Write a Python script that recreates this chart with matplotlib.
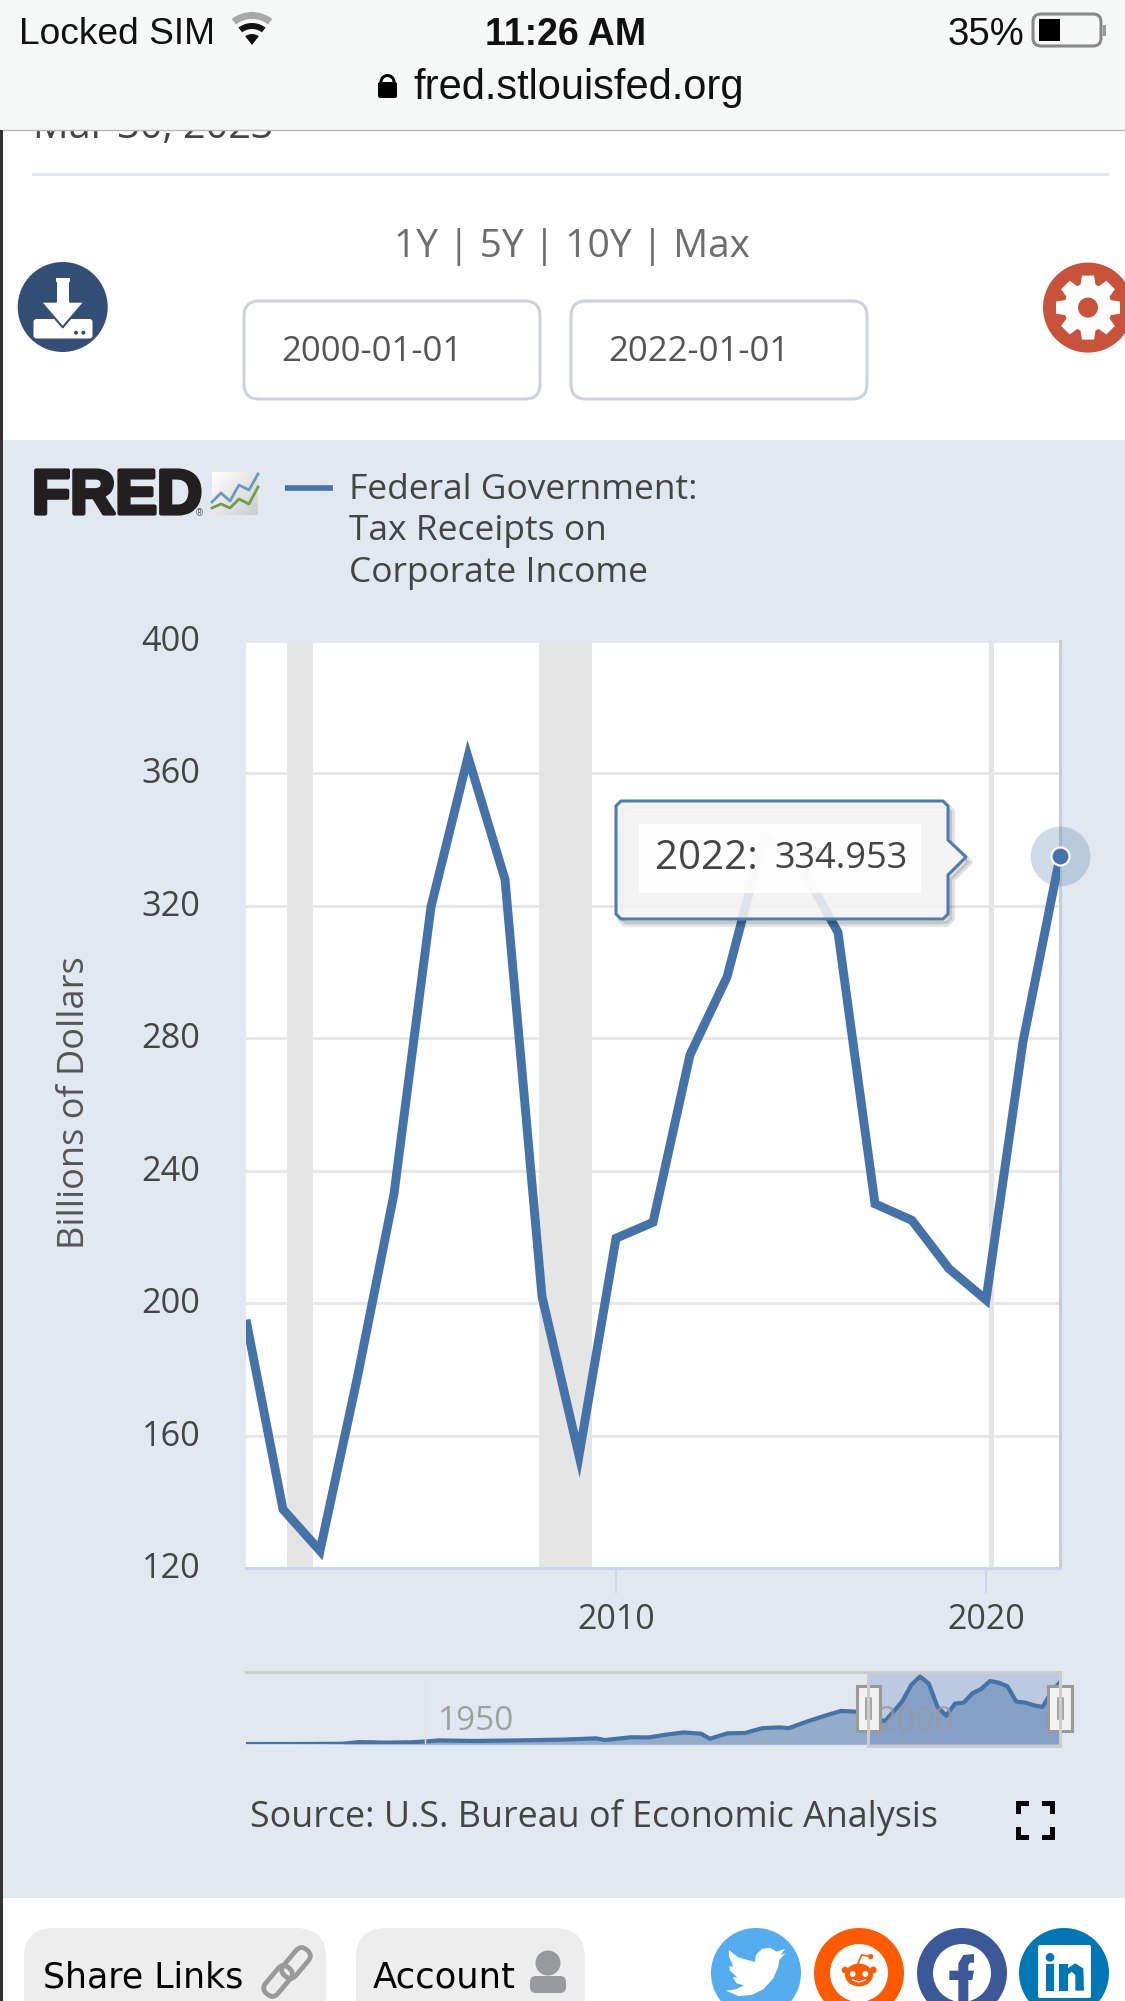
import numpy as np
import matplotlib
matplotlib.use('Agg')
import matplotlib.pyplot as plt
from matplotlib.patches import Circle, Ellipse, FancyBboxPatch, Polygon, Rectangle, Wedge
from matplotlib.transforms import Affine2D, ScaledTranslation
import matplotlib.patheffects as pe

# main series (2014 and 2015 sit behind the tooltip)
years = list(range(2000, 2023))
receipts = [195, 137.7, 125.2, 177, 233, 319.7, 365, 328, 202, 154, 219.6, 224.4,
            275, 298.5, 341, 332, 312, 230, 225, 210.4, 201, 279, 334.953]

# navigator, earlier years
nav_years = [1929, 1935, 1940, 1942, 1945, 1948, 1950, 1951, 1955, 1960, 1965, 1969, 1970,
             1973, 1975, 1977, 1979, 1981, 1982, 1984, 1986, 1988, 1990, 1991, 1993, 1995,
             1997, 1999]
nav_values = [1.4, 1.5, 3, 12, 9, 11, 17, 21, 18, 21, 25, 32, 23,
              38, 37, 52, 64, 57, 30, 59, 61, 87, 91, 87, 121, 152,
              180, 175]

recessions = [(2001.11, 2001.81), (2007.92, 2009.35), (2020.08, 2020.22)]
y_ticks = [120, 160, 200, 240, 280, 320, 360, 400]
x_ticks = [2010, 2020]
legend_lines = ['Federal Government:', 'Tax Receipts on', 'Corporate Income']

BLUE = '#4572a7'
PANEL = '#e1e8ef'
TEXT = '#444444'
W, H = 1125, 2001
OPEN = 'Open Sans'
LIB = 'Liberation Sans'

fig = plt.figure(figsize=(W / 100, H / 100), dpi=100, facecolor='white')


def pixel_axes(z):
    a = fig.add_axes([0, 0, 1, 1], zorder=z)
    a.set_xlim(0, W)
    a.set_ylim(H, 0)
    a.axis('off')
    a.patch.set_alpha(0)
    return a


def axes_at(x0, y0, x1, y1, z):
    return fig.add_axes([x0 / W, 1 - y1 / H, (x1 - x0) / W, (y1 - y0) / H], zorder=z)


def rounded(a, x0, y0, x1, y1, r, **kw):
    p = FancyBboxPatch((x0 + r, y0 + r), x1 - x0 - 2 * r, y1 - y0 - 2 * r,
                       boxstyle='round,pad=%f,rounding_size=%f' % (r, r), **kw)
    a.add_patch(p)
    return p


ui = pixel_axes(0)

# page behind the chart
ui.text(33, 128, 'Mar 30, 2023', fontsize=28.5, family=OPEN, color='#444444', va='center', zorder=1)
ui.add_patch(Rectangle((0, 0), W, 130, fc='#f6f7f7', ec='none', zorder=2))
ui.plot([0, W], [130.5, 130.5], color='#b8b8b8', lw=1, zorder=3)
ui.add_patch(Rectangle((0, 130), 3, H - 130, fc='#333333', ec='none', zorder=6))
ui.plot([33, 1107], [174, 174], color='#e1e8f0', lw=2.2)

# status bar
ui.text(19, 35, 'Locked SIM', fontsize=26.7, family=LIB, color='#111111', va='center', zorder=4)
ui.text(566, 35, '11:26 AM', fontsize=27, family=LIB, weight='bold', color='#111111',
        ha='center', va='center', zorder=4)
ui.text(948, 35, '35%', fontsize=27.5, family=LIB, color='#111111', va='center', zorder=4)
ui.text(579, 88, 'fred.stlouisfed.org', fontsize=30, family=LIB, color='#111111',
        ha='center', va='center', zorder=4)
ui.add_patch(Wedge((252, 45), 33, 232, 308, width=7, fc='#a8a8a8', ec='none', zorder=4))
ui.add_patch(Wedge((252, 45), 22, 232, 308, width=6, fc='#111111', ec='none', zorder=4))
ui.add_patch(Wedge((252, 45), 11, 232, 308, fc='#111111', ec='none', zorder=4))
rounded(ui, 1033, 14, 1101, 46, 8, fc='none', ec='#888888', lw=2.2, zorder=4)
ui.add_patch(Rectangle((1039, 19), 21, 22, fc='black', ec='none', zorder=4))
ui.add_patch(Rectangle((1103, 25), 3, 11, fc='#999999', ec='none', zorder=4))
rounded(ui, 378, 82, 397, 98, 2, fc='black', ec='none', zorder=4)
ui.add_patch(Wedge((387.5, 82), 8, 180, 360, width=3, fc='black', ec='none', zorder=4))

# range links and date inputs
ui.text(572, 247, '1Y | 5Y | 10Y | Max', fontsize=28, family=OPEN, color='#6d6d6d', ha='center', va='center')
for x0, x1, label in [(244, 540, '2000-01-01'), (571, 867, '2022-01-01')]:
    rounded(ui, x0, 301, x1, 399, 15, fc='white', ec='#ccd3de', lw=2.2)
    ui.text(x0 + 37, 352, label, fontsize=25, family=OPEN, color='#555555', va='center')

# download icon, coordinates from a 3x crop
def dl(p):
    return [(x / 3, 250 + y / 3) for x, y in p]


ui.add_patch(Circle((62.7, 307), 45, fc='#344f76', ec='none'))
rounded(ui, 33.5, 319, 92.5, 338.5, 3, fc='white', ec='none')
ui.add_patch(Polygon(dl([(168, 85), (210, 85), (210, 155), (254, 155), (188, 232), (122, 155), (168, 155)]),
                     fc='white', ec='#344f76', lw=1.5, joinstyle='round'))
ui.add_patch(Rectangle((56, 278), 14, 4, fc='white', ec='none'))
ui.add_patch(Circle((76, 332.7), 2, fc='#344f76', ec='none'))
ui.add_patch(Circle((83.3, 332.7), 2, fc='#344f76', ec='none'))

# settings icon
gx, gy = 1088, 307.6
ui.add_patch(Circle((gx, gy), 45, fc='#c8523a', ec='none'))
ui.add_patch(Circle((gx, gy), 24, fc='white', ec='none'))
for ang in np.arange(0, 360, 45):
    t = np.deg2rad(ang)
    d, n = np.array([np.cos(t), np.sin(t)]), np.array([-np.sin(t), np.cos(t)])
    c = np.array([gx, gy])
    ui.add_patch(Polygon([c + 20 * d + 8 * n, c + 32 * d + 6 * n, c + 32 * d - 6 * n, c + 20 * d - 8 * n],
                         fc='white', ec='none'))
ui.add_patch(Circle((gx, gy), 10, fc='#c8523a', ec='none'))

# chart panel
ui.add_patch(Rectangle((3, 440), W - 3, 1898 - 440, fc=PANEL, ec='none'))
ui.text(117, 497, 'FRED', fontsize=45, family=LIB, weight='bold', color='#231f20', ha='center', va='center',
        path_effects=[pe.withStroke(linewidth=3, foreground='#231f20')])
ui.text(199, 513, '®', fontsize=7, family=LIB, color='#555555', ha='center', va='center')
grad = np.linspace(0, 1, 46)[None, :] * 0.5 + np.linspace(0, 1, 43)[:, None] * 0.5
ui.imshow(1 - 0.2 * grad, extent=(212, 258, 515, 472), cmap='gray', vmin=0, vmax=1, aspect='auto', zorder=3)
ui.set_xlim(0, W)
ui.set_ylim(H, 0)
ui.plot([212, 221, 230, 239, 249, 258], [502, 493, 501, 485, 490, 474], color='#6b9ac0', lw=2, zorder=4)
ui.plot([212, 221, 230, 239, 249, 258], [508, 504, 508, 499, 504, 487], color='#6ea04a', lw=2, zorder=4)
ui.plot([285, 333], [488, 488], color=BLUE, lw=4, solid_capstyle='butt')
for text_y, line in zip([490, 531, 573.5], legend_lines):
    ui.text(349, text_y, line, fontsize=25.5, family=OPEN, color=TEXT, va='center')

# main chart
ax = axes_at(246, 641, 1060, 1568, 1)
ax.set_facecolor('white')
ax.set_xlim(2000, 2022)
ax.set_ylim(120, 400)
ax.set_yticks(y_ticks)
ax.set_xticks(x_ticks)
ax.grid(axis='y', color='#e6e6e6', lw=2)
ax.set_axisbelow(True)
for start, end in recessions:
    ax.axvspan(start, end, color='#e5e5e5', lw=0, zorder=1)
ax.plot(years, receipts, color=BLUE, lw=6.4, solid_joinstyle='miter', solid_capstyle='butt', zorder=3)
ax.plot(years[-1], receipts[-1], 'o', ms=43, mfc=BLUE, mec='none', alpha=0.25, clip_on=False, zorder=4)
ax.plot(years[-1], receipts[-1], 'o', ms=13, mfc=BLUE, mec='white', mew=1.6, clip_on=False, zorder=5)
for side in ['top', 'left']:
    ax.spines[side].set_visible(False)
ax.spines['bottom'].set_color('#ccd6eb')
ax.spines['bottom'].set_linewidth(2.2)
ax.spines['right'].set_color('#c8ced8')
ax.spines['right'].set_linewidth(2.2)
ax.tick_params(axis='y', length=0, pad=33, labelsize=24.7, labelcolor=TEXT)
ax.tick_params(axis='x', length=18, width=1.5, color='#ccd6eb', pad=7, labelsize=24.5, labelcolor=TEXT)
shift = ScaledTranslation(0, 3 / 100, fig.dpi_scale_trans)
for lab in ax.get_yticklabels():
    lab.set_transform(lab.get_transform() + shift)
for lab in ax.get_xticklabels() + ax.get_yticklabels():
    lab.set_family(OPEN)
ax.set_ylabel('Billions of Dollars', fontsize=26, family=OPEN, color='#555555')
ax.yaxis.set_label_coords((93 - 246) / 814, 0.5016)

# navigator
nav = axes_at(246, 1671, 1060, 1744.3, 1)
nav.patch.set_alpha(0)
nav_x = nav_years + years
nav_y = nav_values + receipts
nav.set_xlim(1929, 2022)
nav.set_ylim(0, 395)
nav.fill_between(nav_x, nav_y, 0, color=BLUE, alpha=0.5, lw=0)
nav.plot(nav_x, nav_y, color=BLUE, lw=3)
nav.axvline(1949.5, color='#e6e6e6', lw=1)
nav.axvspan(2000, 2022, color='#6685c2', alpha=0.3, lw=0)
nav.set_xticks([])
nav.set_yticks([])
for s in nav.spines.values():
    s.set_visible(False)

top = pixel_axes(3)
top.plot([246, 868, 868, 1060, 1060, 868, 868], [1672, 1672, 1672, 1672, 1746, 1746, 1672], color='#cccccc', lw=2.2,
         solid_joinstyle='miter')
top.text(476, 1722, '1950', fontsize=24, family=OPEN, color='#999999', ha='center', va='center', alpha=0.9)
top.text(916, 1722, '2000', fontsize=24, family=OPEN, color='#999999', ha='center', va='center', alpha=0.75)
for hx0, hx1 in [(856, 881), (1047, 1073)]:
    top.add_patch(Rectangle((hx0 + 1, 1686), hx1 - hx0 - 2, 45, fc='#f2f2f2', ec='#999999', lw=2.2))
    mid = (hx0 + hx1) / 2
    top.plot([mid - 2.5, mid - 2.5], [1698, 1719], color='#999999', lw=1.2)
    top.plot([mid + 2.5, mid + 2.5], [1698, 1719], color='#999999', lw=1.2)

# tooltip
tip = [(621, 801), (943, 801), (948, 806), (948, 840), (966, 857), (948, 875), (948, 914), (943, 919), (621, 919),
       (616, 914), (616, 806)]
top.add_patch(Polygon([(x + 4, y + 5) for x, y in tip], fc='#000000', alpha=0.12, ec='#000000', lw=4, joinstyle='round'))
top.add_patch(Polygon(tip, fc='#f7f7f7', alpha=0.88, ec='none'))
top.add_patch(Polygon(tip, fc='none', ec='#4e7bb0', lw=2.2, joinstyle='round'))
top.add_patch(Rectangle((639, 824), 282, 69, fc='white', alpha=0.85, ec='none'))
top.text(655, 859, '2022:', fontsize=29, family=OPEN, color=TEXT, va='center', weight='medium')
top.text(774, 859, '334.953', fontsize=26, family=OPEN, color=TEXT, va='center')

# source and fullscreen
ui.text(250, 1817, 'Source: U.S. Bureau of Economic Analysis', fontsize=25.8, family=OPEN, color=TEXT, va='center')
fs = [1018, 1052, 1803, 1837]
for cx, sx in [(fs[0], 1), (fs[1], -1)]:
    for cy, sy in [(fs[2], 1), (fs[3], -1)]:
        ui.plot([cx + 8 * sx, cx, cx], [cy, cy, cy + 8 * sy], color='black', lw=3.6, solid_joinstyle='miter')

# footer buttons
rounded(ui, 24, 1928, 326, 2040, 30, fc='#ededed', ec='none')
rounded(ui, 356, 1928, 585, 2040, 30, fc='#ededed', ec='none')
ui.text(43, 1977, 'Share Links', fontsize=25, family='DejaVu Sans', color='black', va='center')
ui.text(373, 1977, 'Account', fontsize=25.5, family='DejaVu Sans', color='black', va='center')
for lx, ly in [(278, 1981), (296, 1963)]:
    link = rounded(ui, lx - 17, ly - 8, lx + 17, ly + 8, 7.5, fc='none', ec='#999999', lw=3.4)
    link.set_transform(Affine2D().rotate_deg_around(lx, ly, -50) + ui.transData)
ui.add_patch(Circle((548, 1963), 12.5, fc='#999a9e', ec='none'))
rounded(ui, 530, 1976, 566, 1993, 6, fc='#999a9e', ec='none')

# social icons, coordinates from a 3x crop
def sc(p):
    return [(680 + x / 3, 1900 + y / 3) for x, y in p]


cy = 1973
ui.add_patch(Circle((756, cy), 45, fc='#55acee', ec='none'))
bird = [(138, 272), (168, 268), (192, 256), (170, 250), (158, 232), (172, 232), (150, 212), (148, 198), (160, 200),
        (147, 170), (146, 150), (175, 172), (225, 186), (228, 165), (245, 147), (270, 143), (290, 155), (316, 146),
        (302, 165), (316, 160), (298, 180), (295, 200), (280, 235), (250, 268), (215, 285), (175, 288)]
ui.add_patch(Polygon(sc(bird), fc='white', ec='none'))

orange = '#fe5a00'
ui.add_patch(Circle((859, cy), 45, fc=orange, ec='none'))
ui.add_patch(Circle((859, cy), 29, fc='white', ec='none'))
for x, y, r in [(495, 210, 10), (580, 210, 10), (572, 170, 8)]:
    ui.add_patch(Circle(sc([(x, y)])[0], r / 3, fc=orange, ec='none'))
ui.add_patch(Ellipse(sc([(537, 225)])[0], 84 / 3, 68 / 3, fc=orange, ec='none'))
ui.plot(*zip(*sc([(532, 195), (545, 165), (572, 170)])), color=orange, lw=1.2)
for x in [518, 556]:
    ui.add_patch(Circle(sc([(x, 222)])[0], 9 / 3, fc='white', ec='none'))
ui.plot(*zip(*sc([(518, 240), (537, 246), (556, 240)])), color='white', lw=1)

navy = '#3b5998'
ui.add_patch(Circle((962, cy), 45, fc=navy, ec='none'))
ui.add_patch(Circle((962, cy), 29, fc='white', ec='none'))
f_shape = [(835, 303), (835, 240), (808, 240), (808, 212), (835, 212), (835, 190), (850, 165), (882, 162), (882, 188),
           (870, 188), (865, 195), (865, 212), (882, 212), (877, 240), (865, 240), (865, 303)]
ui.add_patch(Polygon(sc(f_shape), fc=navy, ec='none'))

teal = '#0077b5'
ui.add_patch(Circle((1064, cy), 45, fc=teal, ec='none'))
rounded(ui, 1038, 1945, 1091, 1998, 2, fc='white', ec='none')
ui.add_patch(Circle(sc([(1110, 172)])[0], 13 / 3, fc=teal, ec='none'))
for x0, x1 in [(1097, 1123), (1137, 1163)]:
    ui.add_patch(Polygon(sc([(x0, 192), (x1, 192), (x1, 272), (x0, 272)]), fc=teal, ec='none'))
n_part = [(1163, 205), (1185, 190), (1210, 205), (1212, 272), (1186, 272), (1186, 225), (1175, 215), (1163, 225)]
ui.add_patch(Polygon(sc(n_part), fc=teal, ec='none'))

fig.savefig('out.png', dpi=100)
